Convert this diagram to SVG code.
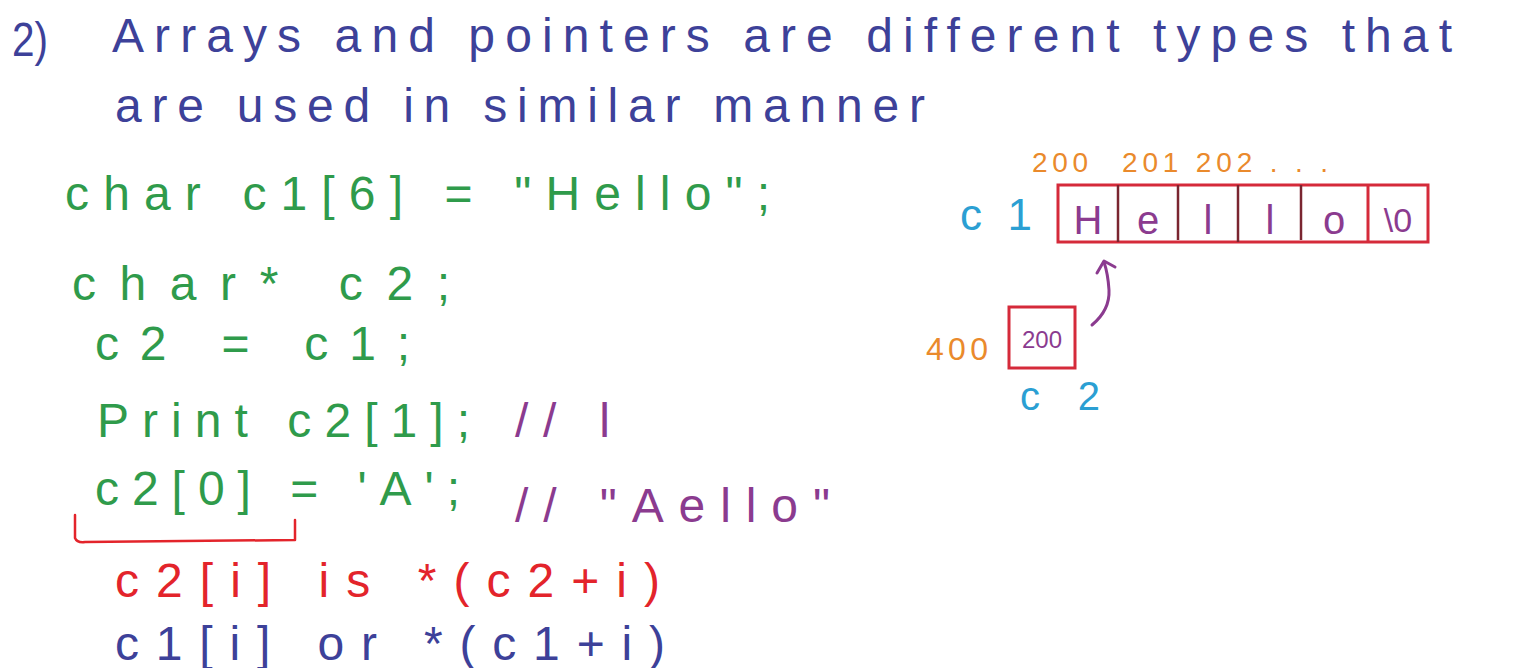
<svg xmlns="http://www.w3.org/2000/svg" width="1532" height="668" viewBox="0 0 1532 668">
<style>
text{font-family:"Liberation Sans","DejaVu Sans",sans-serif;}
.t{fill:#3d4199;font-size:48px;}
.g{fill:#2f9b4b;font-size:48px;}
.p{fill:#8b3b8f;font-size:48px;}
.r{fill:#e3242b;font-size:48px;}
.b{fill:#3d4199;font-size:48px;}
.o{fill:#ea8a2c;font-size:28px;}
.cy{fill:#2b9fd3;font-size:44px;}
.cell{fill:#8b3b8f;font-size:40px;text-anchor:middle;}
.box{fill:none;stroke:#d52a3a;stroke-width:3;}
.div{stroke:#7a2530;stroke-width:2.5;}
.ink{fill:none;stroke-linecap:round;stroke-linejoin:round;}
</style>
<rect width="1532" height="668" fill="#ffffff"/>
<g id="title">
<text class="t" x="12" y="56" textLength="36" lengthAdjust="spacingAndGlyphs">2)</text>
<text class="t" x="112" y="52" textLength="1340" lengthAdjust="spacing">Arrays and pointers are different types that</text>
<text class="t" x="115" y="122" textLength="810" lengthAdjust="spacing">are used in similar manner</text>
</g>
<g id="code">
<text class="g" x="65" y="210" textLength="705" lengthAdjust="spacing">char c1[6] = "Hello";</text>
<text class="g" x="72" y="300" textLength="378" lengthAdjust="spacing">char* c2;</text>
<text class="g" x="95" y="360" textLength="315" lengthAdjust="spacing">c2 = c1;</text>
<text class="g" x="97" y="437" textLength="373" lengthAdjust="spacing">Print c2[1];</text>
<text class="p" x="515" y="437" textLength="95" lengthAdjust="spacing">// l</text>
<text class="g" x="95" y="505" textLength="365" lengthAdjust="spacing">c2[0] = 'A';</text>
<text class="p" x="515" y="522" textLength="315" lengthAdjust="spacing">// "Aello"</text>
<text class="r" x="115" y="597" textLength="545" lengthAdjust="spacing">c2[i] is *(c2+i)</text>
<text class="b" x="115" y="660" textLength="550" lengthAdjust="spacing">c1[i] or *(c1+i)</text>
</g>
<g id="array-c1">
<text class="o" x="1032" y="172" textLength="56" lengthAdjust="spacing">200</text>
<text class="o" x="1122" y="172" textLength="206" lengthAdjust="spacing">201 202 . . .</text>
<text class="cy" x="960" y="230" textLength="72" lengthAdjust="spacing">c 1</text>
<rect class="box" x="1058" y="185" width="370" height="57"/>
<line class="div" x1="1118" y1="185" x2="1118" y2="242"/>
<line class="div" x1="1178" y1="185" x2="1178" y2="240"/>
<line class="div" x1="1238" y1="185" x2="1238" y2="242"/>
<line class="div" x1="1301" y1="185" x2="1301" y2="240"/>
<line class="box" x1="1368" y1="185" x2="1368" y2="242"/>
<text class="cell" x="1088" y="234">H</text>
<text class="cell" x="1148" y="234">e</text>
<text class="cell" x="1208" y="234">l</text>
<text class="cell" x="1270" y="234">l</text>
<text class="cell" x="1334" y="234">o</text>
<text class="cell" x="1398" y="232" style="font-size:34px">\0</text>
</g>
<g id="pointer-c2">
<text class="o" x="926" y="360" textLength="62" lengthAdjust="spacing" style="font-size:32px">400</text>
<rect class="box" x="1009" y="307" width="66" height="61"/>
<text class="cell" x="1042" y="348" style="font-size:24px">200</text>
<text class="cy" x="1020" y="410" textLength="80" lengthAdjust="spacing" style="font-size:40px">c 2</text>
</g>
<g id="connectors">
<path class="ink" d="M1092 325 Q1110 310 1109 290 Q1108 274 1104 262" stroke="#8b3b8f" stroke-width="3"/>
<path class="ink" d="M1097 273 L1104 261 L1115 267" stroke="#8b3b8f" stroke-width="3"/>
<path class="ink" d="M75 515 L75 538 Q77 543 85 542 L295 540 L295 520" stroke="#e3242b" stroke-width="2.5"/>
</g>
</svg>
